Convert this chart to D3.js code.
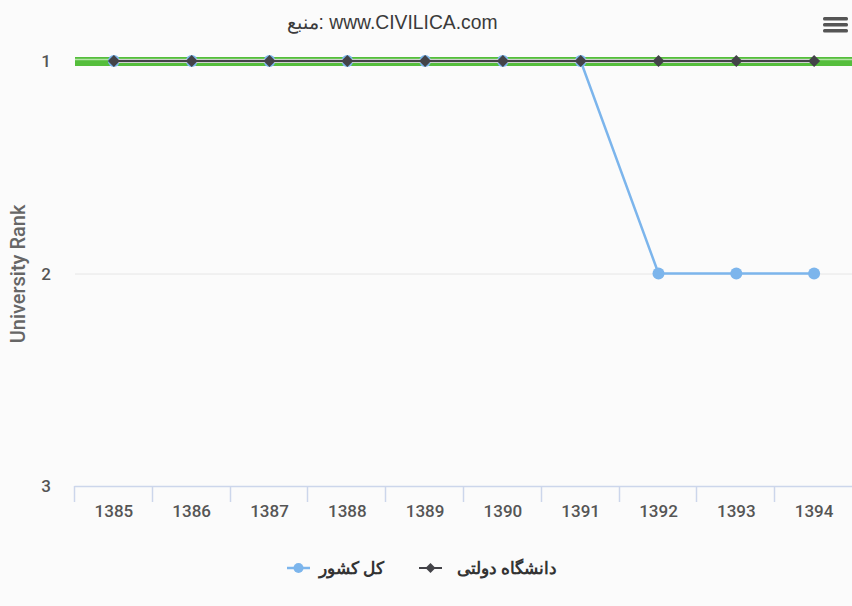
<!DOCTYPE html>
<html><head><meta charset="utf-8">
<script src="https://cdn.jsdelivr.net/npm/d3@7"></script>
<style>body{margin:0;background:#fbfbfb;}svg{display:block;font-family:Roboto,"Noto Sans",sans-serif;}</style>
</head><body><svg id="c" width="852" height="606"></svg>
<script>
const categories = ["1385","1386","1387","1388","1389","1390","1391","1392","1393","1394"];
const seriesNames = ["کل کشور","دانشگاه دولتی"];
const countryRank = [1,1,1,1,1,1,1,2,2,2];
const stateRank = [1,1,1,1,1,1,1,1,1,1];
const yTicks = [1,2,3];
const titleText = "منبع: www.CIVILICA.com";

const svg = d3.select("#c");
svg.append("rect").attr("width",852).attr("height",606).attr("fill","#fbfbfb");
const L=75, R=853, T=61, B=486;
const x = d3.scaleBand().domain(categories).range([L,R]);
const y = d3.scaleLinear().domain([1,3]).range([T,B]);

// grid
svg.append("g").selectAll("line").data(yTicks.slice(1,2)).join("line")
  .attr("x1",L).attr("x2",852).attr("y1",y(2)+0.5).attr("y2",y(2)+0.5)
  .attr("stroke","#e6e6e6").attr("stroke-width",1);

// y labels
svg.append("g").selectAll("text").data(yTicks).join("text")
  .attr("x",51).attr("y",d=>y(d)+6).attr("text-anchor","end")
  .attr("fill","#555").attr("font-size",17).attr("font-weight",500).text(d=>d);

// y title
svg.append("text").attr("transform","translate(25,"+(274)+") rotate(-90)")
  .attr("text-anchor","middle").attr("fill","#666").attr("font-size",20).attr("font-weight",500).text("University Rank");

// x axis
const xa = svg.append("g").attr("transform","translate(0,"+(B+0.5)+")")
  .call(d3.axisBottom(x).tickSize(0).tickPadding(18));
xa.select(".domain").attr("stroke","#ccd6eb").attr("stroke-width",1.5).attr("d","M"+(L-0.5)+",0H"+R);
xa.selectAll("text").attr("fill","#555").attr("font-size",17).attr("font-weight",500).attr("font-family","Roboto,sans-serif");
svg.append("g").selectAll("line").data(categories).join("line")
  .attr("x1",d=>Math.round(x(d))-0.5).attr("x2",d=>Math.round(x(d))-0.5)
  .attr("y1",B).attr("y2",B+16).attr("stroke","#ccd6eb").attr("stroke-width",1.5);

// green plot line at rank 1
svg.append("rect").attr("x",L).attr("y",y(1)-4).attr("width",852-L).attr("height",9).attr("fill","#55be3c");
svg.append("line").attr("x1",L).attr("x2",852).attr("y1",y(1)-1.5).attr("y2",y(1)-1.5).attr("stroke","#b5e3a6").attr("stroke-width",1.5);

const cx = (d,i)=>x(categories[i])+x.bandwidth()/2;
const line = d3.line().x(cx).y(d=>y(d));

// blue series
svg.append("path").datum(countryRank).attr("d",line).attr("fill","none").attr("stroke","#7cb5ec").attr("stroke-width",2.5);
svg.append("g").selectAll("circle").data(countryRank).join("circle")
  .attr("cx",cx).attr("cy",d=>y(d)).attr("r",6).attr("fill","#7cb5ec");

// dark series
svg.append("path").datum(stateRank).attr("d",line).attr("fill","none").attr("stroke","#d0d0d0").attr("stroke-width",4);
svg.append("path").datum(stateRank).attr("d",line).attr("fill","none").attr("stroke","#434348").attr("stroke-width",2);
const dsym = "M0,-6L6,0L0,6L-6,0Z";
svg.append("g").selectAll("path").data(stateRank).join("path")
  .attr("transform",(d,i)=>"translate("+cx(d,i)+","+y(d)+")")
  .attr("d",dsym).attr("fill","#434348");

// title
svg.append("text").attr("x",392).attr("y",29).attr("text-anchor","middle")
  .attr("fill","#3a3a3a").attr("font-size",19.3).attr("font-family","'Liberation Sans',Arial,sans-serif").attr("direction","ltr").text(titleText);

// menu icon
[0,1,2].forEach(i=>svg.append("rect").attr("x",823).attr("y",17+i*6).attr("width",25).attr("height",3.5).attr("rx",1.5).attr("fill","#555"));

// legend
const lg = svg.append("g").attr("font-size",17).attr("font-weight","bold").attr("fill","#333");
lg.append("line").attr("x1",287).attr("x2",310).attr("y1",568).attr("y2",568).attr("stroke","#7cb5ec").attr("stroke-width",2.5);
lg.append("circle").attr("cx",298.5).attr("cy",568).attr("r",5).attr("fill","#7cb5ec");
lg.append("text").attr("x",384).attr("y",574).attr("text-anchor","start").attr("direction","rtl").text(seriesNames[0]);
lg.append("line").attr("x1",419).attr("x2",442).attr("y1",568).attr("y2",568).attr("stroke","#434348").attr("stroke-width",2);
lg.append("path").attr("transform","translate(430.5,568)").attr("d","M0,-5L5,0L0,5L-5,0Z").attr("fill","#434348");
lg.append("text").attr("x",557).attr("y",574).attr("text-anchor","start").attr("direction","rtl").text(seriesNames[1]);
</script></body></html>
